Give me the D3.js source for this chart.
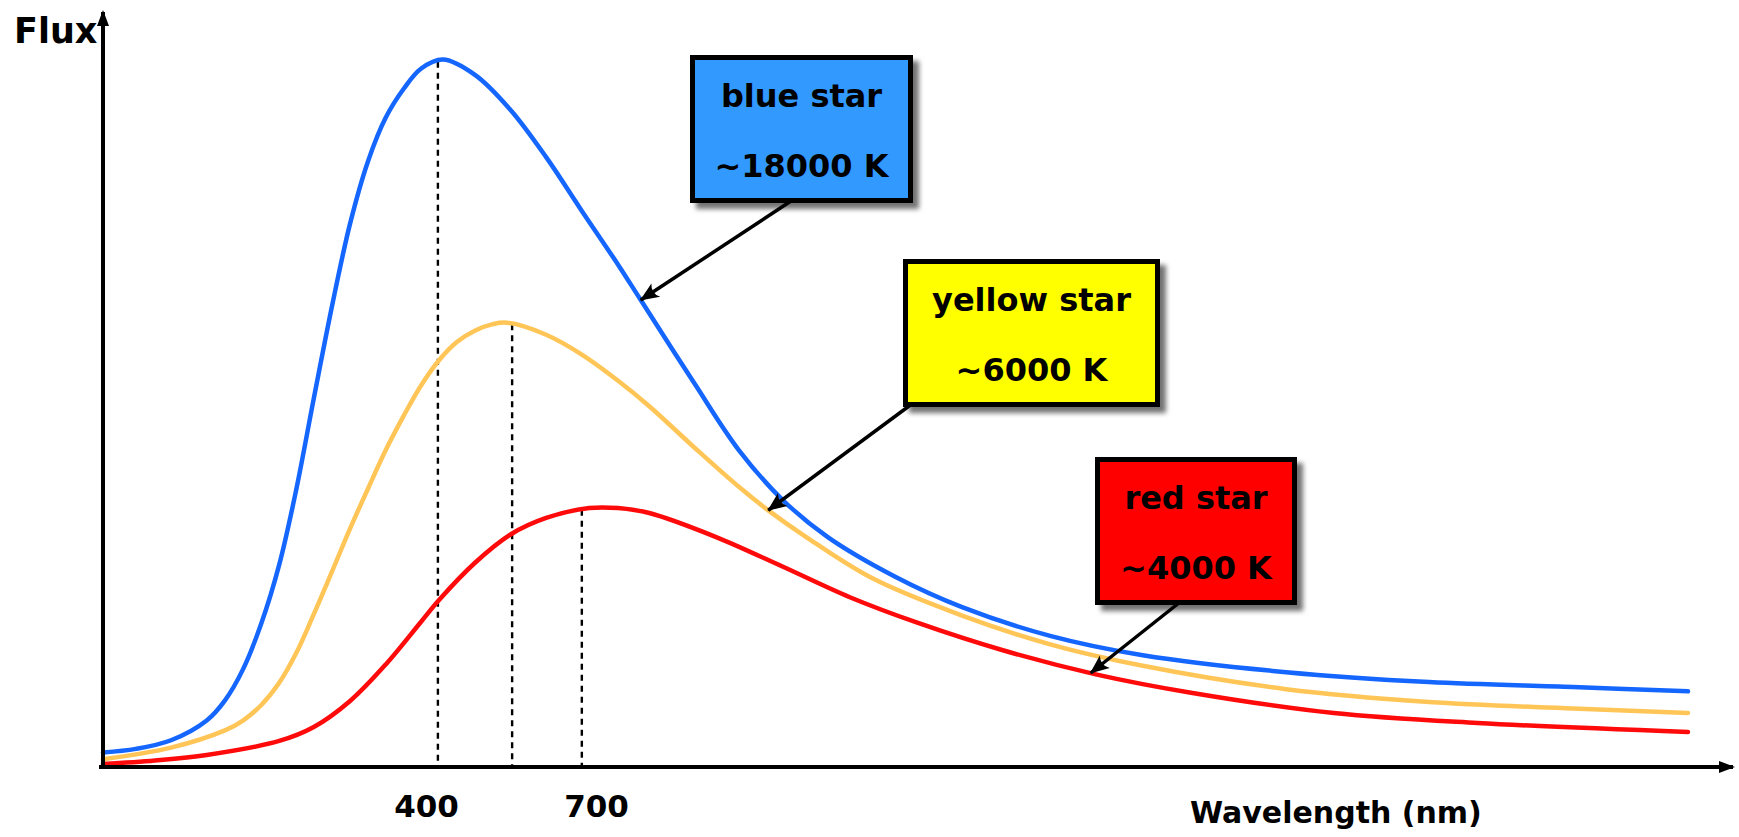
<!DOCTYPE html>
<html>
<head>
<meta charset="utf-8">
<script src="https://cdn.jsdelivr.net/npm/d3@7"></script>
<style>
  body { margin: 0; background: #fff; }
  svg { display: block; font-family: "DejaVu Sans", sans-serif; font-weight: bold; }
</style>
</head>
<body>
<svg id="chart" width="1739" height="837"></svg>
<script>
// wavelength (nm, schematic axis) / flux (arbitrary units)
const blueStar = [[-170,2.05],[-112,2.56],[-50,3.78],[13,6.58],[45,9.39],[77,13.8],[109,20.2],[141,28.6],
  [171,39.2],[202,52.1],[234,65.1],[266,76.8],[298,85.7],[329,91.8],[361,95.9],[391,98.7],[430,100],
  [487,97.8],[550,92.8],[612,86.2],[675,78.6],[739,71.0],[779,66.0],[873,54.3],[952,44.8],[1030,37.7],
  [1109,32.5],[1228,26.9],[1346,22.6],[1503,18.5],[1665,15.8],[1918,13.4],[2170,12.0],[2424,11.3],[2627,10.7]];
const yellowStar = [[-170,1.09],[-50,2.73],[45,5.17],[77,6.57],[109,8.73],[141,11.9],[171,16.1],[202,21.6],
  [234,27.6],[266,33.7],[298,39.4],[329,44.8],[361,49.7],[391,53.9],[423,57.5],[455,60.1],[487,61.7],
  [518,62.6],[543,62.8],[612,61.1],[675,58.3],[739,54.6],[794,51.0],[873,45.2],[952,39.6],[1007,36.1],
  [1071,32.5],[1187,26.7],[1346,21.4],[1503,17.3],[1665,14.3],[1918,11.0],[2170,9.19],[2424,8.27],[2627,7.63]];
const redStar = [[-170,0.42],[-78,0.92],[13,1.7],[141,3.68],[202,5.65],[266,9.33],[329,14.5],[391,20.5],
  [423,23.6],[487,28.9],[550,32.9],[612,35.2],[688,36.6],[739,36.6],[794,35.9],[912,32.5],[1030,28.3],
  [1148,24.0],[1267,20.4],[1418,16.5],[1582,13.1],[1750,10.5],[2002,7.63],[2255,6.22],[2627,4.95]];

const starNames = ["blue star", "yellow star", "red star"];
const starTemps = ["~18000 K", "~6000 K", "~4000 K"];
const lineColors = ["#1466ff", "#ffc657", "#ff0a0a"];
const boxColors = ["#3399ff", "#ffff00", "#ff0000"];
const peakNm = [421, 552, 675];       // dashed drop lines
const arrowTipNm = [779, 1004, 1573]; // where each label arrow touches its curve
const xTicks = [400, 700];

const series = [blueStar, yellowStar, redStar];

const svg = d3.select("#chart");
const x = d3.scaleLinear().domain([-170, 2710]).range([103, 1735]);
const y = d3.scaleLinear().domain([0, 107]).range([767, 10]);

// linear lookup of flux on a series at a given wavelength
function fluxAt(s, nm) {
  const i = d3.bisector(d => d[0]).left(s, nm);
  if (i <= 0) return s[0][1];
  if (i >= s.length) return s[s.length - 1][1];
  const a = s[i - 1], b = s[i];
  return a[1] + (b[1] - a[1]) * (nm - a[0]) / (b[0] - a[0]);
}

const defs = svg.append("defs");
defs.append("marker").attr("id", "axisHead")
  .attr("markerUnits", "userSpaceOnUse")
  .attr("viewBox", "-16 -8 18 16").attr("refX", 0).attr("refY", 0)
  .attr("markerWidth", 18).attr("markerHeight", 16).attr("orient", "auto")
  .append("path").attr("d", "M2,0 L-14,-6 L-14,6 Z").attr("fill", "#000");
defs.append("marker").attr("id", "noteHead")
  .attr("markerUnits", "userSpaceOnUse")
  .attr("viewBox", "-20 -10 22 20").attr("refX", 0).attr("refY", 0)
  .attr("markerWidth", 22).attr("markerHeight", 20).attr("orient", "auto")
  .append("path").attr("d", "M1,0 L-18,-8 Q-12,0 -18,8 Z").attr("fill", "#000");
const f = defs.append("filter").attr("id", "shadow")
  .attr("x", "-10%").attr("y", "-10%").attr("width", "130%").attr("height", "130%");
f.append("feDropShadow").attr("dx", 6).attr("dy", 6).attr("stdDeviation", 2.5)
  .attr("flood-color", "#000").attr("flood-opacity", 0.55);

// dashed lines from each peak down to the axis
svg.append("g").selectAll("line")
  .data(peakNm.map((nm, i) => [nm, fluxAt(series[i], nm)]))
  .join("line")
  .attr("x1", d => x(d[0])).attr("x2", d => x(d[0]))
  .attr("y1", d => y(d[1])).attr("y2", y(0))
  .attr("stroke", "#000").attr("stroke-width", 2.4)
  .attr("stroke-dasharray", "6,5");

// curves
const line = d3.line().x(d => x(d[0])).y(d => y(d[1])).curve(d3.curveCatmullRom.alpha(0.5));
svg.append("g").selectAll("path")
  .data(series)
  .join("path")
  .attr("d", line)
  .attr("fill", "none")
  .attr("stroke", (d, i) => lineColors[i])
  .attr("stroke-width", 4.5)
  .attr("stroke-linecap", "round");

// axes drawn as plain arrows
svg.append("line")
  .attr("x1", x.range()[0] - 4).attr("x2", x.range()[1] - 2)
  .attr("y1", y(0)).attr("y2", y(0))
  .attr("stroke", "#000").attr("stroke-width", 4)
  .attr("marker-end", "url(#axisHead)");
svg.append("line")
  .attr("x1", x.range()[0]).attr("x2", x.range()[0])
  .attr("y1", y(0) + 2).attr("y2", y.range()[1] + 2)
  .attr("stroke", "#000").attr("stroke-width", 4)
  .attr("marker-end", "url(#axisHead)");

const xAxis = svg.append("g")
  .attr("transform", `translate(0,${y(0)})`)
  .call(d3.axisBottom(x).tickValues(xTicks).tickSize(0).tickPadding(28));
xAxis.select(".domain").remove();
xAxis.selectAll("text")
  .attr("fill", "#000")
  .style("font-family", "DejaVu Sans")
  .style("font-weight", "bold")
  .style("font-size", "31px");

svg.append("text").attr("x", 14).attr("y", 43)
  .style("font-size", "35px").text("Flux");
svg.append("text").attr("x", 1190).attr("y", 823)
  .style("font-size", "30px").text("Wavelength (nm)");

// label boxes with arrows to their curves
const boxes = [
  { x: 690, y: 55, w: 223, h: 148, from: 0.48 },
  { x: 903, y: 259, w: 257, h: 148, from: 0.05 },
  { x: 1095, y: 457, w: 202, h: 148, from: 0.44 }
];
const notes = boxes.map((b, i) => ({
  ...b, name: starNames[i], temp: starTemps[i], fill: boxColors[i],
  tip: [x(arrowTipNm[i]), y(fluxAt(series[i], arrowTipNm[i]))]
}));

svg.append("g").selectAll("line")
  .data(notes)
  .join("line")
  .attr("x1", d => d.x + d.w * d.from).attr("y1", d => d.y + d.h - 6)
  .attr("x2", d => d.tip[0]).attr("y2", d => d.tip[1])
  .attr("stroke", "#000").attr("stroke-width", 3.5)
  .attr("marker-end", "url(#noteHead)");

const g = svg.append("g").selectAll("g")
  .data(notes)
  .join("g");
g.append("rect")
  .attr("x", d => d.x + 2.5).attr("y", d => d.y + 2.5)
  .attr("width", d => d.w - 5).attr("height", d => d.h - 5)
  .attr("fill", d => d.fill)
  .attr("stroke", "#000").attr("stroke-width", 5)
  .attr("filter", "url(#shadow)");
g.append("text")
  .attr("x", d => d.x + d.w / 2).attr("y", d => d.y + 52)
  .attr("text-anchor", "middle").style("font-size", "32px")
  .text(d => d.name);
g.append("text")
  .attr("x", d => d.x + d.w / 2).attr("y", d => d.y + 122)
  .attr("text-anchor", "middle").style("font-size", "32px")
  .text(d => d.temp);
</script>
</body>
</html>
